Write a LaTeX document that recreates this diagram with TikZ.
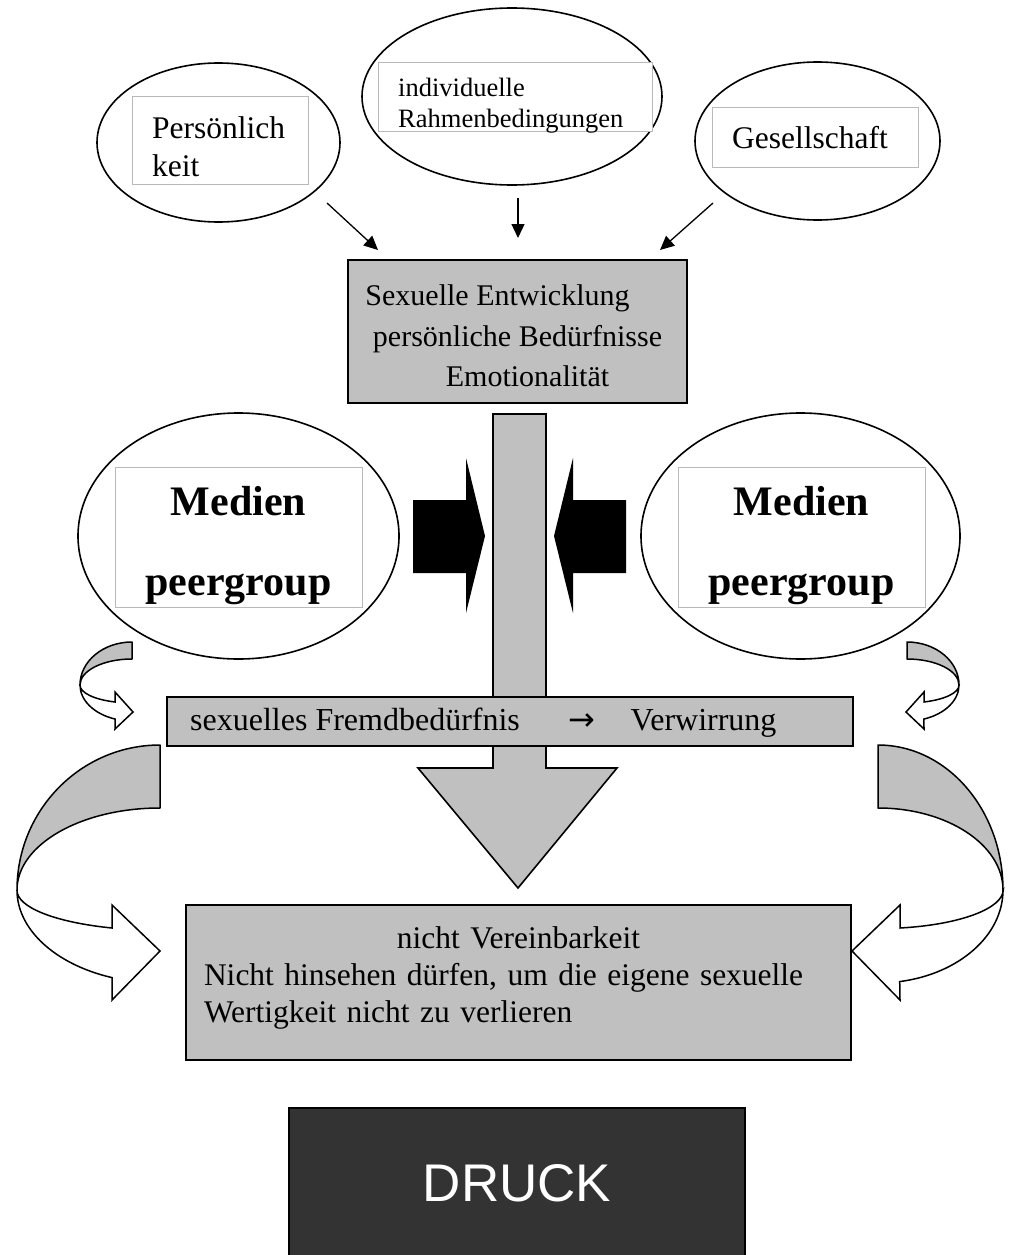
\documentclass[tikz,border=0pt]{standalone}
\usepackage{fontspec}
\setmainfont{Liberation Serif}
\newfontfamily\druckfont{Liberation Sans}
\newfontfamily\symfont{DejaVu Sans}
\usetikzlibrary{shapes.geometric,arrows.meta}
\definecolor{boxgrey}{HTML}{C0C0C0}
\definecolor{druckgrey}{HTML}{333333}
\tikzset{
  bubble/.style={ellipse, draw, line width=1.6pt, inner sep=0pt, fill=white},
  txtbox/.style={draw=gray!55, fill=white, line width=0.8pt, inner sep=0pt},
  greybox/.style={draw, fill=boxgrey, line width=1.6pt, inner sep=0pt},
  label/.style={inner sep=0pt, align=left},
  pfeil/.style={-{Triangle[length=14pt,width=13pt]}, line width=1.3pt},
  bandgrey/.style={fill=boxgrey, draw, line width=1.5pt, line join=round},
  bandwhite/.style={fill=white, draw, line width=1.5pt},
}
\begin{document}
\begin{tikzpicture}[x=1pt, y=-1pt, font=\fontsize{31.5}{38}\selectfont]
  \useasboundingbox (0,0) rectangle (1011,1255);

  % obere Einflussfaktoren
  \node (persOval) [bubble, minimum width=243pt, minimum height=159pt] at (218.5,142.5) {};
  \node (indOval) [bubble, minimum width=300pt, minimum height=177pt] at (512,96.5) {};
  \node (gesOval) [bubble, minimum width=245pt, minimum height=158pt] at (817.5,141) {};
  \node (persBox) [txtbox, minimum width=176pt, minimum height=88pt] at (220,140) {};
  \node (indBox) [txtbox, minimum width=274pt, minimum height=69pt] at (515,96.5) {};
  \node (gesBox) [txtbox, minimum width=206pt, minimum height=60pt] at (815,137) {};
  \node (persText) [label, anchor=west] at (152,147) {Persönlich\\keit};
  \node (indText) [label, anchor=west, font=\fontsize{26.5}{31}\selectfont] at (398,106) {individuelle\\Rahmenbedingungen};
  \node (gesText) [label, anchor=west] at (732,138) {Gesellschaft};

  \coordinate (persEnd) at (327,203);
  \coordinate (indEnd) at (518,198);
  \coordinate (gesEnd) at (713,203);
  \coordinate (entwL) at (378,250);
  \coordinate (entwM) at (518,238);
  \coordinate (entwR) at (660,250);
  \draw[pfeil] (persEnd) -- (entwL);
  \draw[pfeil] (indEnd) -- (entwM);
  \draw[pfeil] (gesEnd) -- (entwR);

  \node (entw) [greybox, minimum width=339pt, minimum height=143pt] at (517.5,331.5) {};
  \node (entwText) [label, align=center, font=\fontsize{30}{40.5}\selectfont] at (517.5,336)
    {Sexuelle Entwicklung\hspace*{40pt}\\ persönliche Bedürfnisse\hspace*{10pt}\\ \hspace*{20pt}Emotionalität};

  % grosser Pfeil nach unten
  \draw[greybox] (493,414) -- (493,768) -- (418,768) -- (518,888) -- (617,768)
    -- (546,768) -- (546,414) -- cycle;

  % Medien / peergroup
  \node (medL) [bubble, minimum width=321pt, minimum height=246pt] at (238.5,536) {};
  \node (medR) [bubble, minimum width=319pt, minimum height=246pt] at (800.5,536) {};
  \node (medLBox) [txtbox, minimum width=247pt, minimum height=140pt] at (238.5,537) {};
  \node (medRBox) [txtbox, minimum width=247pt, minimum height=140pt] at (801.5,537) {};
  \node (medLText) [label, align=center, font=\fontsize{42}{80}\selectfont\bfseries] at (238.5,546) {Medien\\peergroup};
  \node (medRText) [label, align=center, font=\fontsize{42}{80}\selectfont\bfseries] at (801.5,546) {Medien\\peergroup};

  % Druck von den Seiten
  \fill (413,500) -- (466,500) -- (466,458) -- (485,536) -- (466,613) -- (466,573) -- (413,573) -- cycle;
  \fill (626,500) -- (573,500) -- (573,458) -- (554,536) -- (573,613) -- (573,573) -- (626,573) -- cycle;

  \node (fremd) [greybox, minimum width=686pt, minimum height=49pt] at (510,721.5) {};
  \node (fremdText) [label, anchor=west, font=\fontsize{32}{38}\selectfont] at (190,723)
    {sexuelles Fremdbedürfnis\hspace{49pt}{\symfont →}\hspace{35pt}Verwirrung};

  % kleine Drehpfeile
  \begin{scope}[shift={(132,685)}]
    \draw[bandgrey] (0,-43) arc[start angle=270, end angle=180, x radius=52, y radius=43]
      arc[start angle=180, end angle=270, x radius=52, y radius=26] -- cycle;
    \draw[bandwhite] (-52,0) arc[start angle=180, end angle=109, x radius=52, y radius=36]
      -- (-17,44) -- (1,27) -- (-17,7) -- (-17,17)
      arc[start angle=109, end angle=180, x radius=52, y radius=18] -- cycle;
  \end{scope}
  \begin{scope}[shift={(907,685)}, xscale=-1]
    \draw[bandgrey] (0,-43) arc[start angle=270, end angle=180, x radius=52, y radius=43]
      arc[start angle=180, end angle=270, x radius=52, y radius=26] -- cycle;
    \draw[bandwhite] (-52,0) arc[start angle=180, end angle=109, x radius=52, y radius=36]
      -- (-17,44) -- (1,27) -- (-17,7) -- (-17,17)
      arc[start angle=109, end angle=180, x radius=52, y radius=18] -- cycle;
  \end{scope}

  \node (nicht) [greybox, minimum width=665pt, minimum height=155pt] at (518.5,982.5) {};
  \node (nichtText) [label, text width=629pt, font=\fontsize{31.5}{37}\selectfont] at (518.5,978)
    {\makebox[\linewidth]{nicht Vereinbarkeit}\\ Nicht hinsehen dürfen, um die eigene sexuelle\\ Wertigkeit nicht zu verlieren};

  % grosse Drehpfeile
  \begin{scope}[shift={(160,890)}]
    \draw[bandgrey] (0,-145) arc[start angle=270, end angle=180, x radius=143, y radius=145]
      arc[start angle=180, end angle=270, x radius=143, y radius=82] -- cycle;
    \draw[bandwhite] (-143,0) arc[start angle=180, end angle=109.6, x radius=143, y radius=93]
      -- (-48,110) -- (0,61) -- (-48,15) -- (-48,38)
      arc[start angle=109.6, end angle=180, x radius=143, y radius=40] -- cycle;
  \end{scope}
  \begin{scope}[shift={(878,890)}, xscale=-1]
    \draw[bandgrey] (0,-145) arc[start angle=270, end angle=180, x radius=125, y radius=145]
      arc[start angle=180, end angle=270, x radius=125, y radius=82] -- cycle;
    \draw[bandwhite] (-125,0) arc[start angle=180, end angle=100, x radius=125, y radius=93]
      -- (-22,110) -- (26,61) -- (-22,15) -- (-22,38)
      arc[start angle=100, end angle=180, x radius=125, y radius=39] -- cycle;
  \end{scope}

  \node (druck) [draw, fill=druckgrey, line width=1.6pt, minimum width=456pt, minimum height=150pt,
    text=white, font=\fontsize{53}{60}\druckfont] at (517,1183) {DRUCK};
\end{tikzpicture}
\end{document}
